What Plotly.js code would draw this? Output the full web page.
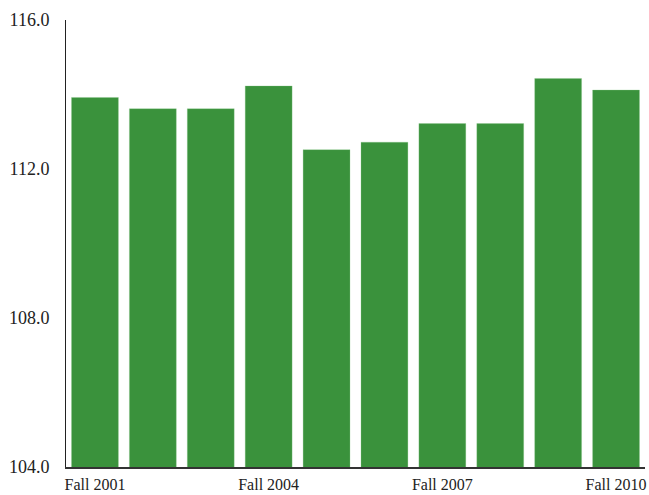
<!DOCTYPE html>
<html>
<head>
<meta charset="utf-8">
<script src="https://cdn.plot.ly/plotly-3.0.1.min.js"></script>
<style>html,body{margin:0;padding:0;background:#fff;}#chart{width:649px;height:495px;}</style>
</head>
<body>
<div id="chart"></div>
<script>
var categories = ["Fall 2001","Fall 2002","Fall 2003","Fall 2004","Fall 2005","Fall 2006","Fall 2007","Fall 2008","Fall 2009","Fall 2010"];
var values = [113.92, 113.62, 113.62, 114.23, 112.52, 112.72, 113.22, 113.22, 114.43, 114.12];
var shownTicks = ["Fall 2001","Fall 2004","Fall 2007","Fall 2010"];
var yTicks = [104, 108, 112, 116];
var yTickText = ["104.0","108.0","112.0","116.0"];

var trace = {
  type: "bar",
  x: categories,
  y: values,
  marker: {color: "rgb(58,146,60)", line: {color: "rgba(140,200,140,0.6)", width: 0.5}},
  hoverinfo: "x+y"
};

var layout = {
  width: 649, height: 495,
  margin: {l: 66, r: 4, t: 20, b: 28},
  paper_bgcolor: "#fff", plot_bgcolor: "#fff",
  font: {family: "Liberation Serif, Times New Roman, serif", size: 17, color: "#222"},
  bargap: 0.19,
  showlegend: false,
  xaxis: {
    type: "category",
    tickmode: "array",
    tickvals: shownTicks,
    ticktext: shownTicks,
    tickfont: {size: 16},
    showgrid: false,
    zeroline: false,
    showline: true,
    linecolor: "#333",
    linewidth: 1.5,
    ticks: "",
    ticklabelstandoff: 2,
    range: [-0.5, 9.5]
  },
  yaxis: {
    range: [104, 116],
    tickmode: "array",
    tickvals: yTicks,
    ticktext: yTickText,
    tickfont: {size: 18},
    showgrid: false,
    zeroline: false,
    showline: true,
    linecolor: "#222",
    linewidth: 1,
    ticks: "",
    ticklabelstandoff: 12
  }
};

Plotly.newPlot("chart", [trace], layout, {displayModeBar: false, staticPlot: true});
</script>
</body>
</html>
